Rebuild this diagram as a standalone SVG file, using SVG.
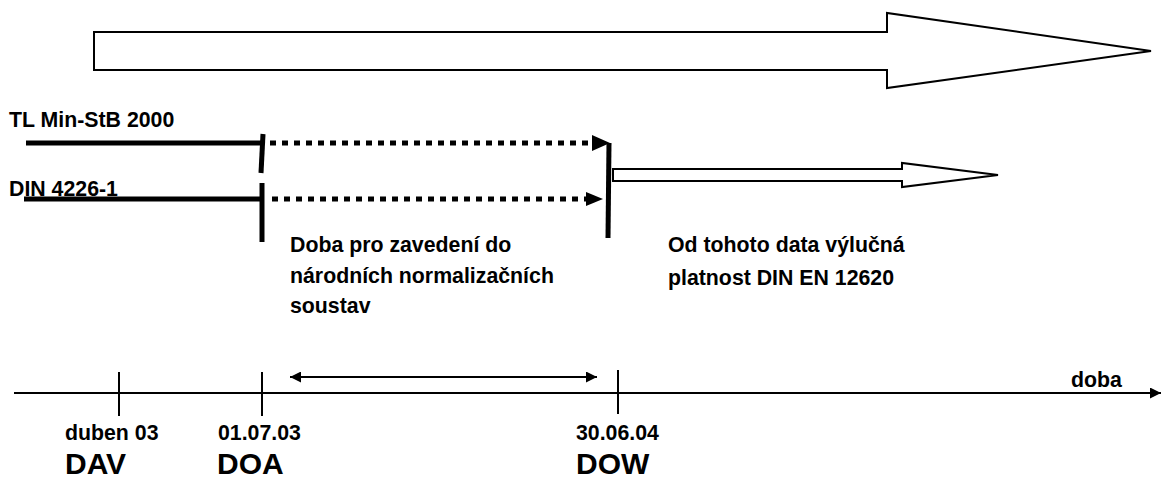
<svg xmlns="http://www.w3.org/2000/svg" width="1162" height="481" viewBox="0 0 1162 481">
<defs>
<style>
text{font-family:"Liberation Sans",Arial,sans-serif;font-weight:bold;fill:#000}
.t{font-size:21.3px}
.big{font-size:30px}
.hollow{fill:#fff;stroke:#000;stroke-width:2;stroke-linejoin:miter}
.thick{stroke:#000;stroke-width:5;fill:none}
.dot{stroke:#000;stroke-width:5;fill:none;stroke-dasharray:6 6}
.thin{stroke:#000;stroke-width:2;fill:none}
</style>
<marker id="ah" viewBox="0 0 10 10" refX="10" refY="5" markerWidth="13" markerHeight="11" markerUnits="userSpaceOnUse" orient="auto-start-reverse"><path d="M0,0 L10,5 L0,10 Z" fill="#000"/></marker>
</defs>
<rect width="1162" height="481" fill="#fff"/>
<g id="big-arrow"><polygon class="hollow" points="94,32 887,32 887,13 1151,51 887,88 887,70 94,70"/></g>
<g id="tl-min"><text class="t" x="9" y="127">TL Min-StB 2000</text><line class="thick" x1="26" y1="143" x2="262" y2="143"/></g>
<g id="din4226"><text class="t" x="9" y="196">DIN 4226-1</text><line class="thick" x1="24" y1="199" x2="262" y2="199"/></g>
<g id="doa-bar"><line class="thick" x1="263" y1="134" x2="261" y2="173"/><line class="thick" x1="262" y1="183" x2="262" y2="242"/></g>
<g id="dow-bar"><line class="thick" x1="609" y1="143" x2="608" y2="238"/></g>
<g id="new-arrow"><polygon class="hollow" points="613,169 902,169 902,163 998,175 902,187 902,181 613,181"/></g>
<g id="connectors">
<line class="dot" x1="270" y1="143" x2="594" y2="143"/><polygon points="592,135 610,143 592,151" fill="#000"/>
<line class="dot" x1="272" y1="199" x2="587" y2="199"/><polygon points="586,192 603,199 586,206" fill="#000"/>
<line class="thin" x1="290" y1="377" x2="597" y2="377" marker-start="url(#ah)" marker-end="url(#ah)"/>
<line class="thin" x1="14" y1="393" x2="1161" y2="393" marker-end="url(#ah)"/>
<line class="thin" x1="119" y1="372" x2="119" y2="416"/>
<line class="thin" x1="262" y1="372" x2="262" y2="416"/>
<line class="thin" x1="618" y1="370" x2="618" y2="414"/>
</g>
<g id="label-period"><text class="t" x="290" y="252">Doba pro zavedení do</text><text class="t" x="290" y="283">národních normalizačních</text><text class="t" x="290" y="313">soustav</text></g>
<g id="label-exclusive"><text class="t" x="668" y="252">Od tohoto data výlučná</text><text class="t" x="668" y="285">platnost DIN EN 12620</text></g>
<g id="axis-label"><text class="t" x="1071" y="387">doba</text></g>
<g id="dav"><text class="t" x="65" y="440">duben 03</text><text class="big" x="65" y="474">DAV</text></g>
<g id="doa"><text class="t" x="218" y="440">01.07.03</text><text class="big" x="217" y="474">DOA</text></g>
<g id="dow"><text class="t" x="576" y="440">30.06.04</text><text class="big" x="576" y="474">DOW</text></g>
</svg>
